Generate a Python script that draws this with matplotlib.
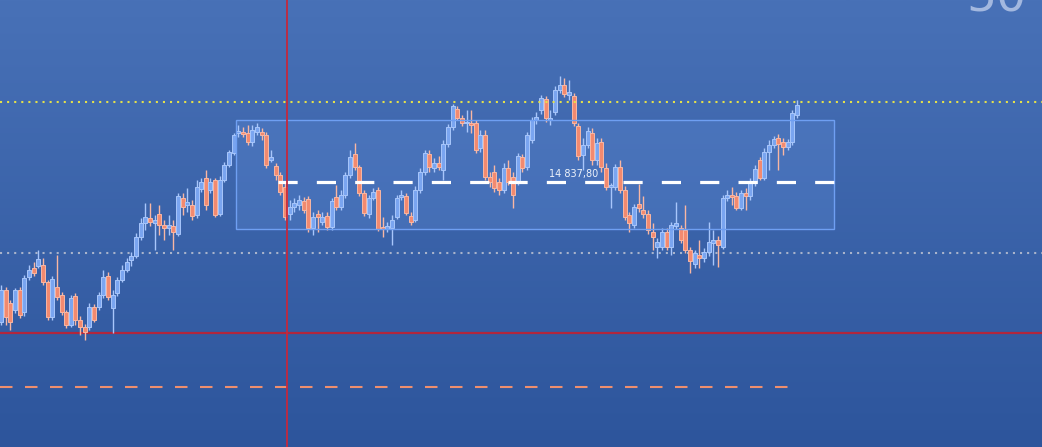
import numpy as np
import matplotlib
matplotlib.use('Agg')
import matplotlib.pyplot as plt
from matplotlib.patches import Rectangle
from matplotlib.colors import LinearSegmentedColormap

# velas (OHLC), de izquierda a derecha
opens = [14698, 14730, 14717, 14710, 14730, 14708, 14743, 14752, 14754, 14755,
         14738, 14703, 14733, 14725, 14708, 14695, 14724, 14700, 14693, 14693,
         14713, 14713, 14725, 14744, 14712, 14727, 14740, 14750, 14760, 14764,
         14783, 14797, 14802, 14797, 14806, 14795, 14792, 14794, 14786, 14822,
         14815, 14815, 14805, 14831, 14842, 14830, 14840, 14806, 14840, 14855,
         14867, 14887, 14888, 14887, 14878, 14888, 14888, 14885, 14860, 14854,
         14845, 14833, 14806, 14813, 14815, 14819, 14821, 14792, 14806, 14798,
         14804, 14793, 14823, 14813, 14825, 14845, 14866, 14853, 14827, 14806,
         14822, 14830, 14793, 14791, 14792, 14803, 14823, 14824, 14804, 14800,
         14830, 14848, 14866, 14852, 14857, 14850, 14876, 14893, 14911, 14902,
         14897, 14897, 14897, 14872, 14885, 14843, 14848, 14838, 14830, 14852,
         14843, 14838, 14863, 14853, 14880, 14900, 14910, 14921, 14900, 14908,
         14930, 14935, 14925, 14924, 14894, 14865, 14875, 14887, 14860, 14878,
         14852, 14833, 14833, 14853, 14830, 14805, 14795, 14816, 14810, 14806,
         14788, 14773, 14773, 14788, 14773, 14794, 14792, 14790, 14770, 14756,
         14765, 14762, 14768, 14777, 14780, 14773, 14822, 14825, 14824, 14812,
         14827, 14824, 14837, 14860, 14842, 14868, 14875, 14882, 14878, 14873,
         14878, 14905]
highs = [14735, 14733, 14720, 14732, 14733, 14745, 14755, 14758, 14770, 14762,
         14740, 14744, 14765, 14728, 14710, 14725, 14727, 14704, 14696, 14717,
         14716, 14728, 14750, 14748, 14730, 14743, 14755, 14762, 14768, 14787,
         14802, 14817, 14817, 14805, 14815, 14800, 14805, 14800, 14827, 14827,
         14832, 14820, 14840, 14842, 14850, 14842, 14842, 14844, 14858, 14870,
         14887, 14895, 14893, 14895, 14895, 14897, 14892, 14888, 14870, 14857,
         14848, 14837, 14820, 14822, 14825, 14823, 14824, 14808, 14810, 14808,
         14808, 14822, 14835, 14830, 14848, 14870, 14877, 14855, 14830, 14825,
         14832, 14833, 14803, 14798, 14805, 14825, 14830, 14827, 14808, 14834,
         14852, 14870, 14870, 14862, 14864, 14880, 14896, 14916, 14914, 14905,
         14910, 14910, 14900, 14890, 14890, 14848, 14855, 14842, 14857, 14860,
         14848, 14867, 14866, 14888, 14903, 14908, 14925, 14924, 14910, 14934,
         14944, 14942, 14940, 14927, 14897, 14882, 14893, 14892, 14882, 14882,
         14857, 14837, 14856, 14860, 14834, 14808, 14816, 14836, 14824, 14810,
         14797, 14782, 14792, 14792, 14798, 14818, 14795, 14815, 14773, 14770,
         14780, 14772, 14798, 14790, 14784, 14825, 14830, 14833, 14828, 14830,
         14832, 14842, 14855, 14863, 14872, 14880, 14884, 14886, 14882, 14881,
         14910, 14920]
lows = [14695, 14695, 14690, 14707, 14702, 14704, 14740, 14744, 14752, 14735,
        14700, 14700, 14720, 14705, 14692, 14693, 14695, 14685, 14680, 14690,
        14698, 14710, 14722, 14720, 14687, 14724, 14738, 14748, 14754, 14762,
        14780, 14790, 14794, 14770, 14785, 14780, 14785, 14770, 14784, 14805,
        14808, 14800, 14802, 14828, 14810, 14827, 14803, 14804, 14838, 14853,
        14865, 14883, 14883, 14875, 14874, 14885, 14880, 14852, 14858, 14840,
        14825, 14800, 14800, 14808, 14810, 14807, 14788, 14785, 14788, 14795,
        14790, 14790, 14810, 14810, 14822, 14842, 14850, 14824, 14804, 14802,
        14820, 14789, 14783, 14788, 14775, 14801, 14820, 14805, 14795, 14798,
        14827, 14845, 14848, 14848, 14850, 14840, 14873, 14890, 14900, 14894,
        14888, 14887, 14867, 14868, 14840, 14833, 14828, 14825, 14827, 14835,
        14812, 14835, 14848, 14850, 14877, 14896, 14906, 14898, 14895, 14905,
        14927, 14923, 14920, 14894, 14860, 14850, 14872, 14855, 14855, 14848,
        14830, 14812, 14830, 14827, 14800, 14788, 14792, 14808, 14802, 14786,
        14770, 14762, 14770, 14770, 14765, 14791, 14777, 14767, 14747, 14752,
        14752, 14758, 14764, 14755, 14753, 14771, 14819, 14815, 14810, 14810,
        14810, 14820, 14834, 14840, 14840, 14850, 14872, 14850, 14865, 14870,
        14875, 14902]
closes = [14730, 14703, 14698, 14730, 14705, 14742, 14750, 14747, 14761, 14738,
          14703, 14741, 14723, 14708, 14695, 14722, 14700, 14693, 14688, 14713,
          14700, 14725, 14743, 14723, 14725, 14740, 14750, 14758, 14764, 14783,
          14797, 14803, 14798, 14800, 14795, 14792, 14795, 14788, 14824, 14813,
          14818, 14804, 14833, 14838, 14815, 14838, 14805, 14840, 14855, 14868,
          14885, 14889, 14886, 14878, 14890, 14893, 14885, 14855, 14863, 14845,
          14828, 14803, 14813, 14817, 14820, 14810, 14792, 14803, 14803, 14803,
          14793, 14819, 14813, 14825, 14845, 14863, 14853, 14827, 14807, 14822,
          14828, 14791, 14791, 14794, 14800, 14822, 14825, 14807, 14798, 14830,
          14848, 14867, 14853, 14857, 14853, 14876, 14893, 14914, 14902, 14897,
          14898, 14895, 14870, 14885, 14843, 14838, 14832, 14830, 14852, 14838,
          14825, 14864, 14852, 14885, 14900, 14903, 14922, 14902, 14902, 14930,
          14935, 14926, 14928, 14897, 14864, 14875, 14889, 14860, 14877, 14853,
          14833, 14835, 14853, 14830, 14803, 14797, 14813, 14812, 14806, 14790,
          14783, 14778, 14788, 14773, 14795, 14797, 14780, 14770, 14759, 14767,
          14762, 14768, 14778, 14780, 14775, 14822, 14825, 14823, 14812, 14827,
          14824, 14837, 14851, 14842, 14868, 14875, 14881, 14876, 14873, 14878,
          14907, 14915]

# niveles horizontales y zona marcada
nivel_amarillo = 14918
nivel_central = 14837.80
nivel_gris = 14767
nivel_rojo = 14687
nivel_naranja = 14633
caja_arriba = 14900
caja_abajo = 14791
etiqueta_central = '14 837,80'
numero_esquina = '50'

n = len(opens)
xpos = np.arange(n)
o = np.array(opens)
c = np.array(closes)
sube = c >= o

fig = plt.figure(figsize=(10.42, 4.47), dpi=100)
ax = fig.add_axes([0, 0, 1, 1])

# escala: una vela cada ~4.655 px, 1 punto por px en vertical
paso = 4.655
x0 = -1 / paso
x1 = 1041 / paso
y0, y1 = 14573, 15020
ax.set_xlim(x0, x1)
ax.set_ylim(y0, y1)
ax.axis('off')

# fondo degradado
fondo = LinearSegmentedColormap.from_list('fondo', ['#2d559c', '#4871b7'])
grad = np.linspace(0, 1, 256).reshape(-1, 1)
ax.imshow(grad, extent=[x0, x1, y0, y1], origin='lower', aspect='auto',
          cmap=fondo, zorder=0)

def px(xp):
    return (xp - 1) / paso

# zona rectangular
ax.add_patch(Rectangle((px(236), caja_abajo), px(834) - px(236), caja_arriba - caja_abajo,
                       facecolor='#6d9be8', alpha=0.22, edgecolor='none', zorder=1))
ax.add_patch(Rectangle((px(236), caja_abajo), px(834) - px(236), caja_arriba - caja_abajo,
                       facecolor='none', edgecolor='#6f9ff2', linewidth=1, zorder=4))

# lineas de niveles
ax.axhline(nivel_gris, color='#a9b3cb', linewidth=1.5, linestyle=(0, (1, 2.4)), zorder=2)
ax.axhline(nivel_rojo, color='#b1263d', linewidth=1.6, zorder=2)
ax.plot([px(0), px(795)], [nivel_naranja, nivel_naranja], color='#ee8f6e',
        linewidth=1.5, linestyle=(0, (6, 6)), zorder=2)

# velas: mechas y cuerpos
col_cuerpo = np.where(sube, '#7aa5f0', '#f28a70')
col_borde = np.where(sube, '#a8c6fb', '#f9b7a3')
ax.vlines(xpos, lows, highs, colors=col_borde, linewidth=1, zorder=3)
base = np.minimum(o, c)
alto = np.maximum(np.abs(c - o), 1.5)
ax.bar(xpos, alto, bottom=base, width=0.86, color=col_cuerpo,
       edgecolor=col_borde, linewidth=0.7, zorder=3)

ax.axhline(nivel_amarillo, color='#e4e04a', linewidth=1.5, linestyle=(0, (1, 2.4)), zorder=5)
ax.plot([px(278), px(852)], [nivel_central, nivel_central], color='white',
        linewidth=2.3, linestyle=(0, (6, 6)), zorder=5)
ax.axvline(px(287), color='#c4283d', linewidth=1.3, zorder=6)

ax.text(px(574), nivel_central + 3, etiqueta_central, color='#eef3fb', fontsize=7,
        ha='center', va='bottom', zorder=7)
# numero grande de la esquina, cortado por el borde superior como en la captura
ax.text(0.985, 1 - 12 / 447, numero_esquina, transform=ax.transAxes, color='#a3b8df',
        fontsize=34, ha='right', va='baseline', zorder=7)

fig.savefig('out.png', dpi=100)
